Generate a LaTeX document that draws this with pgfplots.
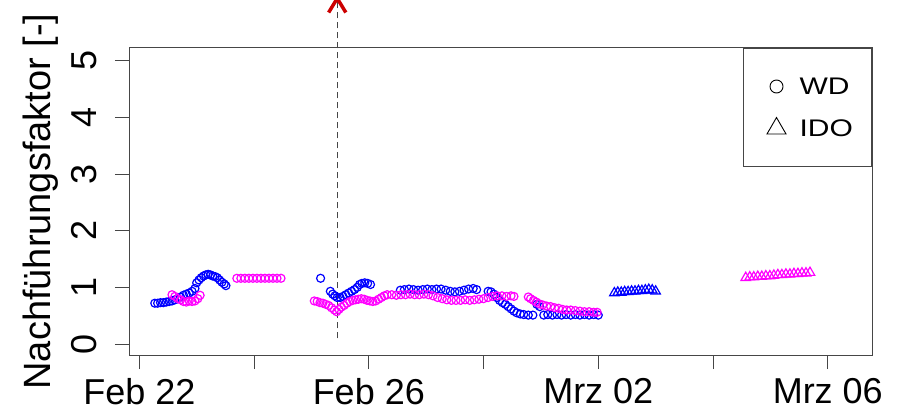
\documentclass[border=0pt]{standalone}
\usepackage{fontspec}
\setmainfont{Liberation Sans}
\newfontfamily\legendfont[FakeStretch=1.25]{Liberation Sans}
\usepackage{pgfplots}
\pgfplotsset{compat=1.18}
\definecolor{wdblue}{RGB}{0,0,255}
\definecolor{wdmag}{RGB}{255,0,255}
\definecolor{axgray}{RGB}{70,70,70}
\definecolor{arrowred}{RGB}{204,0,0}
\begin{document}
\begin{tikzpicture}
\useasboundingbox (0,0) rectangle (899pt,413pt);
\begin{axis}[
  at={(129pt,58pt)}, anchor=south west,
  scale only axis, width=743pt, height=307pt,
  xmin=-0.1795, xmax=12.771, ymin=-0.194, ymax=5.224,
  clip=false,
  axis line style={axgray, line width=1pt},
  every tick/.style={axgray, line width=1pt},
  tick align=outside, major tick length=14pt,
  tick pos=left,
  xtick={0,2,4,6,8,10,12},
  xticklabels={Feb 22,,Feb 26,,Mrz 02,,Mrz 06},
  ytick={0,1,2,3,4,5},
  /pgf/number format/assume math mode=true,
  tick label style={font=\fontsize{36}{40}\selectfont, inner sep=0pt},
  yticklabel style={rotate=90, anchor=south},
  yticklabel shift=18pt,
  xticklabel shift=9pt,
  ylabel={Nachführungsfaktor [-]},
  ylabel style={font=\fontsize{38}{42}\selectfont, at={(axis description cs:-0.1063,0.5)}, anchor=base, rotate=0, inner sep=0pt},
  legend style={at={(1,1)}, anchor=north east, draw=axgray, line width=1pt,
    inner xsep=0pt, inner ysep=29pt, row sep=22pt,
    font=\legendfont\fontsize{24}{28}\selectfont,
    nodes={inner sep=0pt}},
  legend cell align=left,
  legend image code/.code={\path[draw=none] (0pt,0pt) -- (56pt,0pt); \draw[#1] plot coordinates {(33pt,0pt)};},
]
\addlegendimage{only marks, mark=o, mark size=6.5pt, black, line width=0.9pt}
\addlegendentry{\makebox[72pt][l]{WD}}
\addlegendimage{only marks, mark=triangle, mark size=11pt, black, line width=0.9pt}
\addlegendentry{\makebox[72pt][l]{IDO}}

% WD blue circles
\addplot[only marks, mark=o, mark size=4pt, wdblue, line width=1.2pt, forget plot] coordinates {
(0.27,0.72) (0.32,0.72) (0.37,0.73) (0.42,0.73) (0.47,0.74) (0.52,0.75) (0.57,0.76)
(0.62,0.78) (0.67,0.80) (0.72,0.83) (0.77,0.86) (0.82,0.88) (0.87,0.90) (0.92,0.93)
(0.97,0.98) (1.00,1.08) (1.04,1.13) (1.08,1.17) (1.12,1.20) (1.16,1.22) (1.20,1.23)
(1.24,1.22) (1.28,1.20) (1.32,1.19) (1.36,1.17) (1.40,1.13) (1.44,1.09) (1.48,1.06) (1.51,1.03)
(3.16,1.16)
(3.33,0.93) (3.37,0.88) (3.41,0.85) (3.45,0.82) (3.50,0.82) (3.55,0.84) (3.60,0.87)
(3.65,0.90) (3.70,0.93) (3.75,0.96) (3.80,1.00) (3.84,1.05) (3.88,1.07) (3.93,1.08)
(3.98,1.07) (4.03,1.05)
(4.55,0.95) (4.62,0.96) (4.70,0.97) (4.78,0.96) (4.86,0.95) (4.94,0.96) (5.02,0.97)
(5.10,0.96) (5.18,0.97) (5.26,0.97) (5.34,0.95) (5.42,0.93) (5.50,0.92) (5.58,0.93)
(5.66,0.95) (5.74,0.97) (5.82,0.98) (5.88,0.96)
(6.08,0.93) (6.13,0.92) (6.18,0.88) (6.23,0.82) (6.28,0.77) (6.33,0.73) (6.38,0.70)
(6.43,0.66) (6.48,0.62) (6.53,0.58) (6.58,0.55) (6.64,0.53) (6.70,0.52) (6.78,0.51)
(6.86,0.51) (6.93,0.70) (6.98,0.66)
(7.05,0.51) (7.12,0.52) (7.20,0.51) (7.28,0.52) (7.36,0.51) (7.44,0.52) (7.52,0.51)
(7.60,0.52) (7.68,0.51) (7.76,0.52) (7.84,0.51) (7.92,0.52) (8.00,0.51)
};
% WD magenta circles
\addplot[only marks, mark=o, mark size=4pt, wdmag, line width=1.2pt, forget plot] coordinates {
(0.57,0.87) (0.62,0.84) (0.67,0.80) (0.72,0.78) (0.77,0.75) (0.82,0.74) (0.87,0.76)
(0.92,0.75) (0.97,0.76) (1.02,0.80) (1.06,0.86)
(1.70,1.16) (1.77,1.16) (1.84,1.16) (1.91,1.16) (1.98,1.16) (2.05,1.16) (2.12,1.16)
(2.19,1.16) (2.26,1.16) (2.33,1.16) (2.40,1.16) (2.47,1.16)
(3.05,0.76) (3.10,0.75) (3.15,0.73) (3.20,0.72) (3.25,0.70) (3.30,0.68) (3.35,0.64)
(3.40,0.60) (3.44,0.57) (3.48,0.61) (3.52,0.65) (3.57,0.68) (3.62,0.72) (3.67,0.75)
(3.72,0.77) (3.77,0.78) (3.82,0.79) (3.87,0.80) (3.92,0.79) (3.97,0.77) (4.02,0.76)
(4.07,0.75) (4.12,0.76) (4.17,0.79) (4.22,0.82) (4.27,0.85) (4.32,0.87) (4.40,0.87)
(4.48,0.86) (4.56,0.87) (4.64,0.87) (4.72,0.88) (4.80,0.87) (4.88,0.87) (4.96,0.88)
(5.04,0.87) (5.12,0.85) (5.20,0.82) (5.28,0.80) (5.36,0.78) (5.44,0.77) (5.52,0.77)
(5.60,0.77) (5.68,0.78) (5.76,0.77) (5.84,0.78) (5.92,0.79) (6.00,0.80) (6.08,0.82)
(6.16,0.84) (6.24,0.85) (6.32,0.85) (6.40,0.84) (6.48,0.85) (6.53,0.84)
(6.78,0.83) (6.82,0.80) (6.87,0.77) (6.92,0.74) (6.97,0.71) (7.03,0.69) (7.10,0.67)
(7.17,0.66) (7.24,0.64) (7.31,0.63) (7.38,0.61) (7.45,0.60) (7.52,0.60) (7.60,0.59)
(7.68,0.58) (7.76,0.57) (7.84,0.57) (7.92,0.56) (7.98,0.56)
};
% IDO blue triangles
\addplot[only marks, mark=triangle, mark size=5.5pt, wdblue, line width=1.2pt, forget plot] coordinates {
(8.28,0.90) (8.34,0.91) (8.40,0.91) (8.46,0.92) (8.52,0.92) (8.58,0.93) (8.64,0.93)
(8.70,0.94) (8.76,0.94) (8.82,0.95) (8.88,0.96) (8.94,0.95) (9.00,0.93)
};
% IDO magenta triangles
\addplot[only marks, mark=triangle, mark size=5.5pt, wdmag, line width=1.2pt, forget plot] coordinates {
(10.57,1.17) (10.64,1.18) (10.71,1.18) (10.78,1.19) (10.85,1.19) (10.92,1.20) (10.99,1.20)
(11.06,1.21) (11.13,1.22) (11.20,1.22) (11.27,1.23) (11.34,1.23) (11.41,1.24) (11.48,1.24)
(11.55,1.25) (11.62,1.25) (11.69,1.26)
};
% event marker
\addplot[axgray, line width=1.3pt, dash pattern=on 6pt off 4pt, forget plot] coordinates {(3.45,0.1) (3.45,6.06)};
\addplot[arrowred, line width=3.5pt, forget plot] coordinates {(3.30,5.85) (3.45,6.10) (3.60,5.85)};
\end{axis}
\end{tikzpicture}
\end{document}
